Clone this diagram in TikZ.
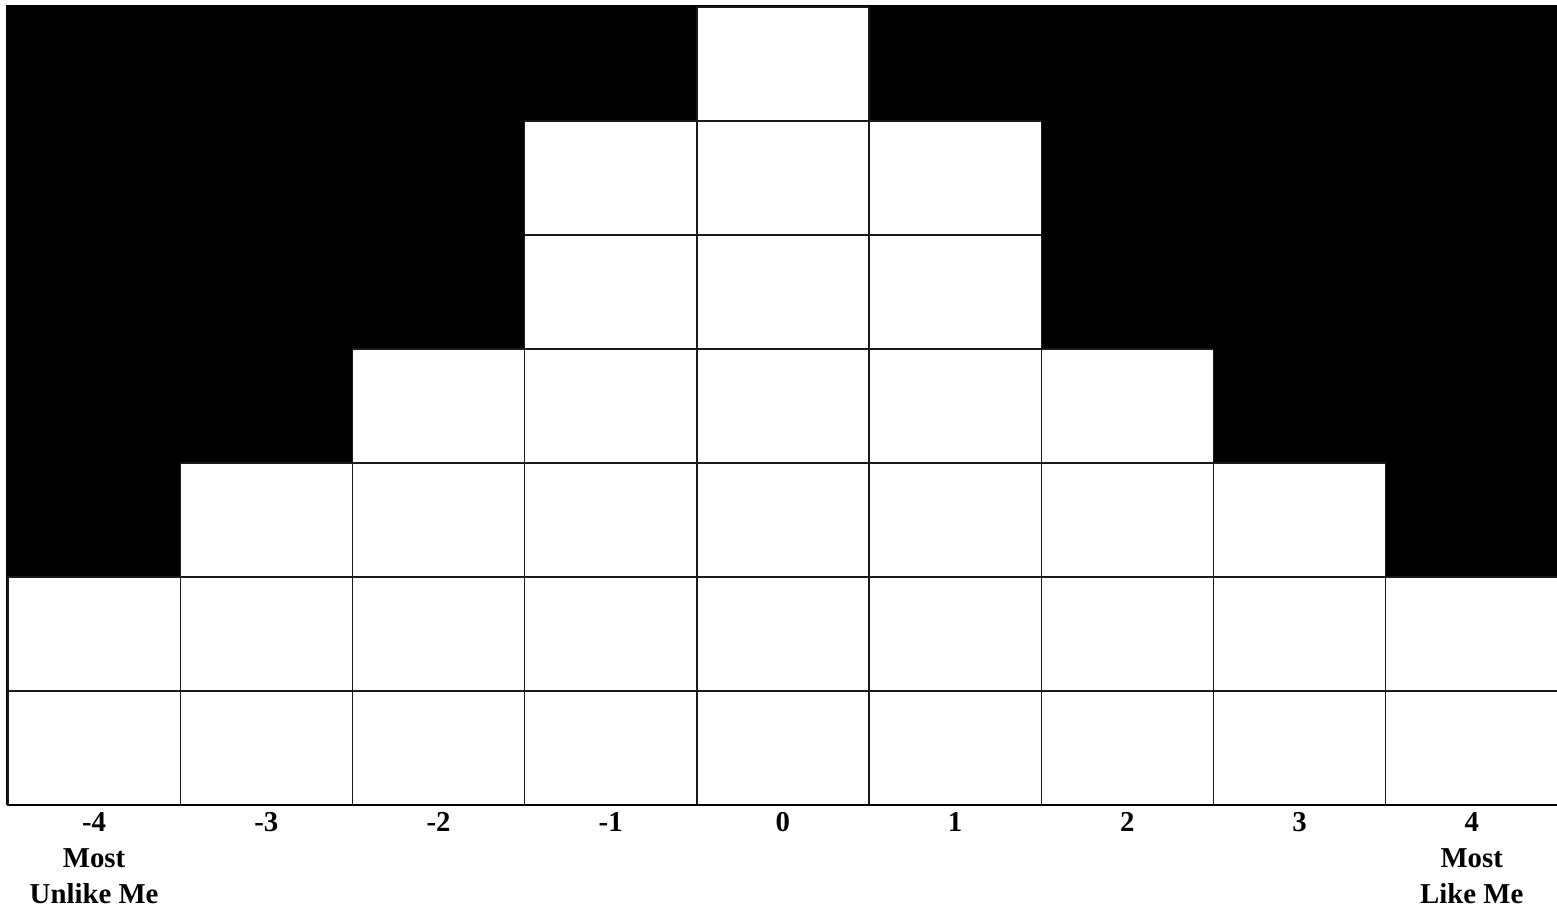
\documentclass[tikz,border=0pt]{standalone}
\usepackage{fontspec}
\setmainfont{Liberation Serif}
\usepackage{tikz}
\usetikzlibrary{positioning}
\definecolor{cellline}{HTML}{1A1A1A}

\begin{document}
\begin{tikzpicture}[x=0.5pt, y=-0.5pt]
  \tikzset{
    cell/.style={draw=cellline, fill=white, line width=0.7pt,
                 minimum width=86.1pt, minimum height=57pt, inner sep=0pt, outer sep=0pt},
    scorelbl/.style={font=\fontsize{14.4}{18}\selectfont\bfseries,
                     align=center, anchor=north, inner sep=0pt}
  }
  \useasboundingbox (0,0) rectangle (1557,913);
  % black backdrop behind the card columns
  \fill[black] (6,5) rectangle (1557,805);
  \foreach \s/\n [count=\i from 0] in {-4/2,-3/3,-2/4,-1/6,0/7,1/6,2/4,3/3,4/2}{
    \foreach \r in {1,...,\n}
      \node[cell] (c\i r\r) at ({8+172.2*(\i+0.5)}, {805-114*(\r-0.5)}) {};
  }
  \draw[line width=1.4pt] (c0r1.south west) -- (c8r1.south east);
  % scores under the columns
  \node[scorelbl, below=3.5pt of c0r1] (s0) {-4\\Most\\Unlike Me};
  \foreach \s [count=\i from 1] in {-3,-2,-1,0,1,2,3}
    \node[scorelbl, below=3.5pt of c\i r1] (s\i) {\s};
  \node[scorelbl, below=3.5pt of c8r1] (s8) {4\\Most\\Like Me};
\end{tikzpicture}
\end{document}
